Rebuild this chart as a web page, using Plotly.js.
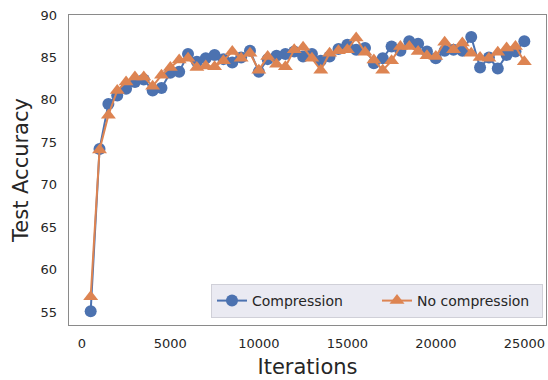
<!DOCTYPE html>
<html>
<head>
<meta charset="utf-8">
<script src="https://cdn.plot.ly/plotly-3.0.1.min.js"></script>
<style>html,body{margin:0;padding:0;background:#fff;}#chart{width:548px;height:380px;}</style>
</head>
<body>
<div id="chart"></div>
<script>
const iterations = [500,1000,1500,2000,2500,3000,3500,4000,4500,5000,5500,6000,6500,7000,7500,8000,8500,9000,9500,10000,10500,11000,11500,12000,12500,13000,13500,14000,14500,15000,15500,16000,16500,17000,17500,18000,18500,19000,19500,20000,20500,21000,21500,22000,22500,23000,23500,24000,24500,25000];
const compression = [55.1,74.2,79.5,80.5,81.3,82.1,82.4,81.1,81.4,83.2,83.3,85.4,84.5,84.9,85.3,84.8,84.4,85.0,85.8,83.3,84.8,85.2,85.4,85.7,85.1,85.4,84.6,85.1,86.0,86.5,85.9,86.1,84.3,84.9,86.3,85.8,86.9,86.6,85.7,84.9,85.8,85.9,85.8,87.4,83.8,85.0,83.7,85.3,85.7,86.9];
const noCompression = [56.8,74.1,78.2,81.1,82.1,82.7,82.7,81.6,82.9,83.8,84.7,84.9,83.8,84.0,83.9,84.6,85.7,84.9,85.5,83.5,85.1,84.2,83.9,85.9,86.2,84.9,83.5,85.5,85.8,85.9,87.3,85.6,84.7,83.5,84.6,86.3,86.3,85.7,85.2,85.1,86.8,85.9,86.7,85.5,85.0,84.9,85.6,86.1,86.3,84.5];
const seriesNames = ["Compression", "No compression"];
const xTicks = [0,5000,10000,15000,20000,25000];
const yTicks = [55,60,65,70,75,80,85,90];

const traces = [
  {x: iterations, y: compression, name: seriesNames[0], type: "scatter", mode: "lines+markers",
   line: {color: "#4c72b0", width: 2}, marker: {symbol: "circle", size: 12, color: "#4c72b0"}},
  {x: iterations, y: noCompression, name: seriesNames[1], type: "scatter", mode: "lines+markers",
   line: {color: "#dd8452", width: 2}, marker: {symbol: "triangle-up", size: 13, color: "#dd8452"}}
];

const tickFont = {family: "DejaVu Sans", size: 13, color: "#262626"};
const titleFont = {family: "DejaVu Sans", size: 21, color: "#262626"};

const layout = {
  width: 548, height: 380,
  margin: {l: 69, r: 2, t: 15, b: 55},
  paper_bgcolor: "#ffffff", plot_bgcolor: "#ffffff",
  showlegend: true,
  legend: {orientation: "h", x: 0.9937, y: 0.0226, xanchor: "right", yanchor: "bottom",
    bgcolor: "#eaeaf2", bordercolor: "#d0d0d8", borderwidth: 1,
    itemwidth: 30, entrywidth: 120, tracegroupgap: 0,
    font: {family: "DejaVu Sans", size: 14, color: "#262626"}},
  xaxis: {
    showgrid: false, zeroline: false, showline: true, mirror: true,
    linecolor: "#8a8a8a", linewidth: 1.3, ticks: "",
    range: [-725, 26225], tickvals: xTicks, ticktext: xTicks.map(String),
    tickfont: tickFont, ticklabelstandoff: 6,
    title: {text: "Iterations", font: titleFont, standoff: 9}
  },
  yaxis: {
    showgrid: false, zeroline: false, showline: true, mirror: true,
    linecolor: "#8a8a8a", linewidth: 1.3, ticks: "",
    range: [53.47, 90], tickvals: yTicks, ticktext: yTicks.map(String),
    tickfont: tickFont, ticklabelstandoff: 8,
    title: {text: "Test Accuracy", font: titleFont, standoff: 6}
  }
};

Plotly.newPlot("chart", traces, layout, {displayModeBar: false, staticPlot: true});
</script>
</body>
</html>
